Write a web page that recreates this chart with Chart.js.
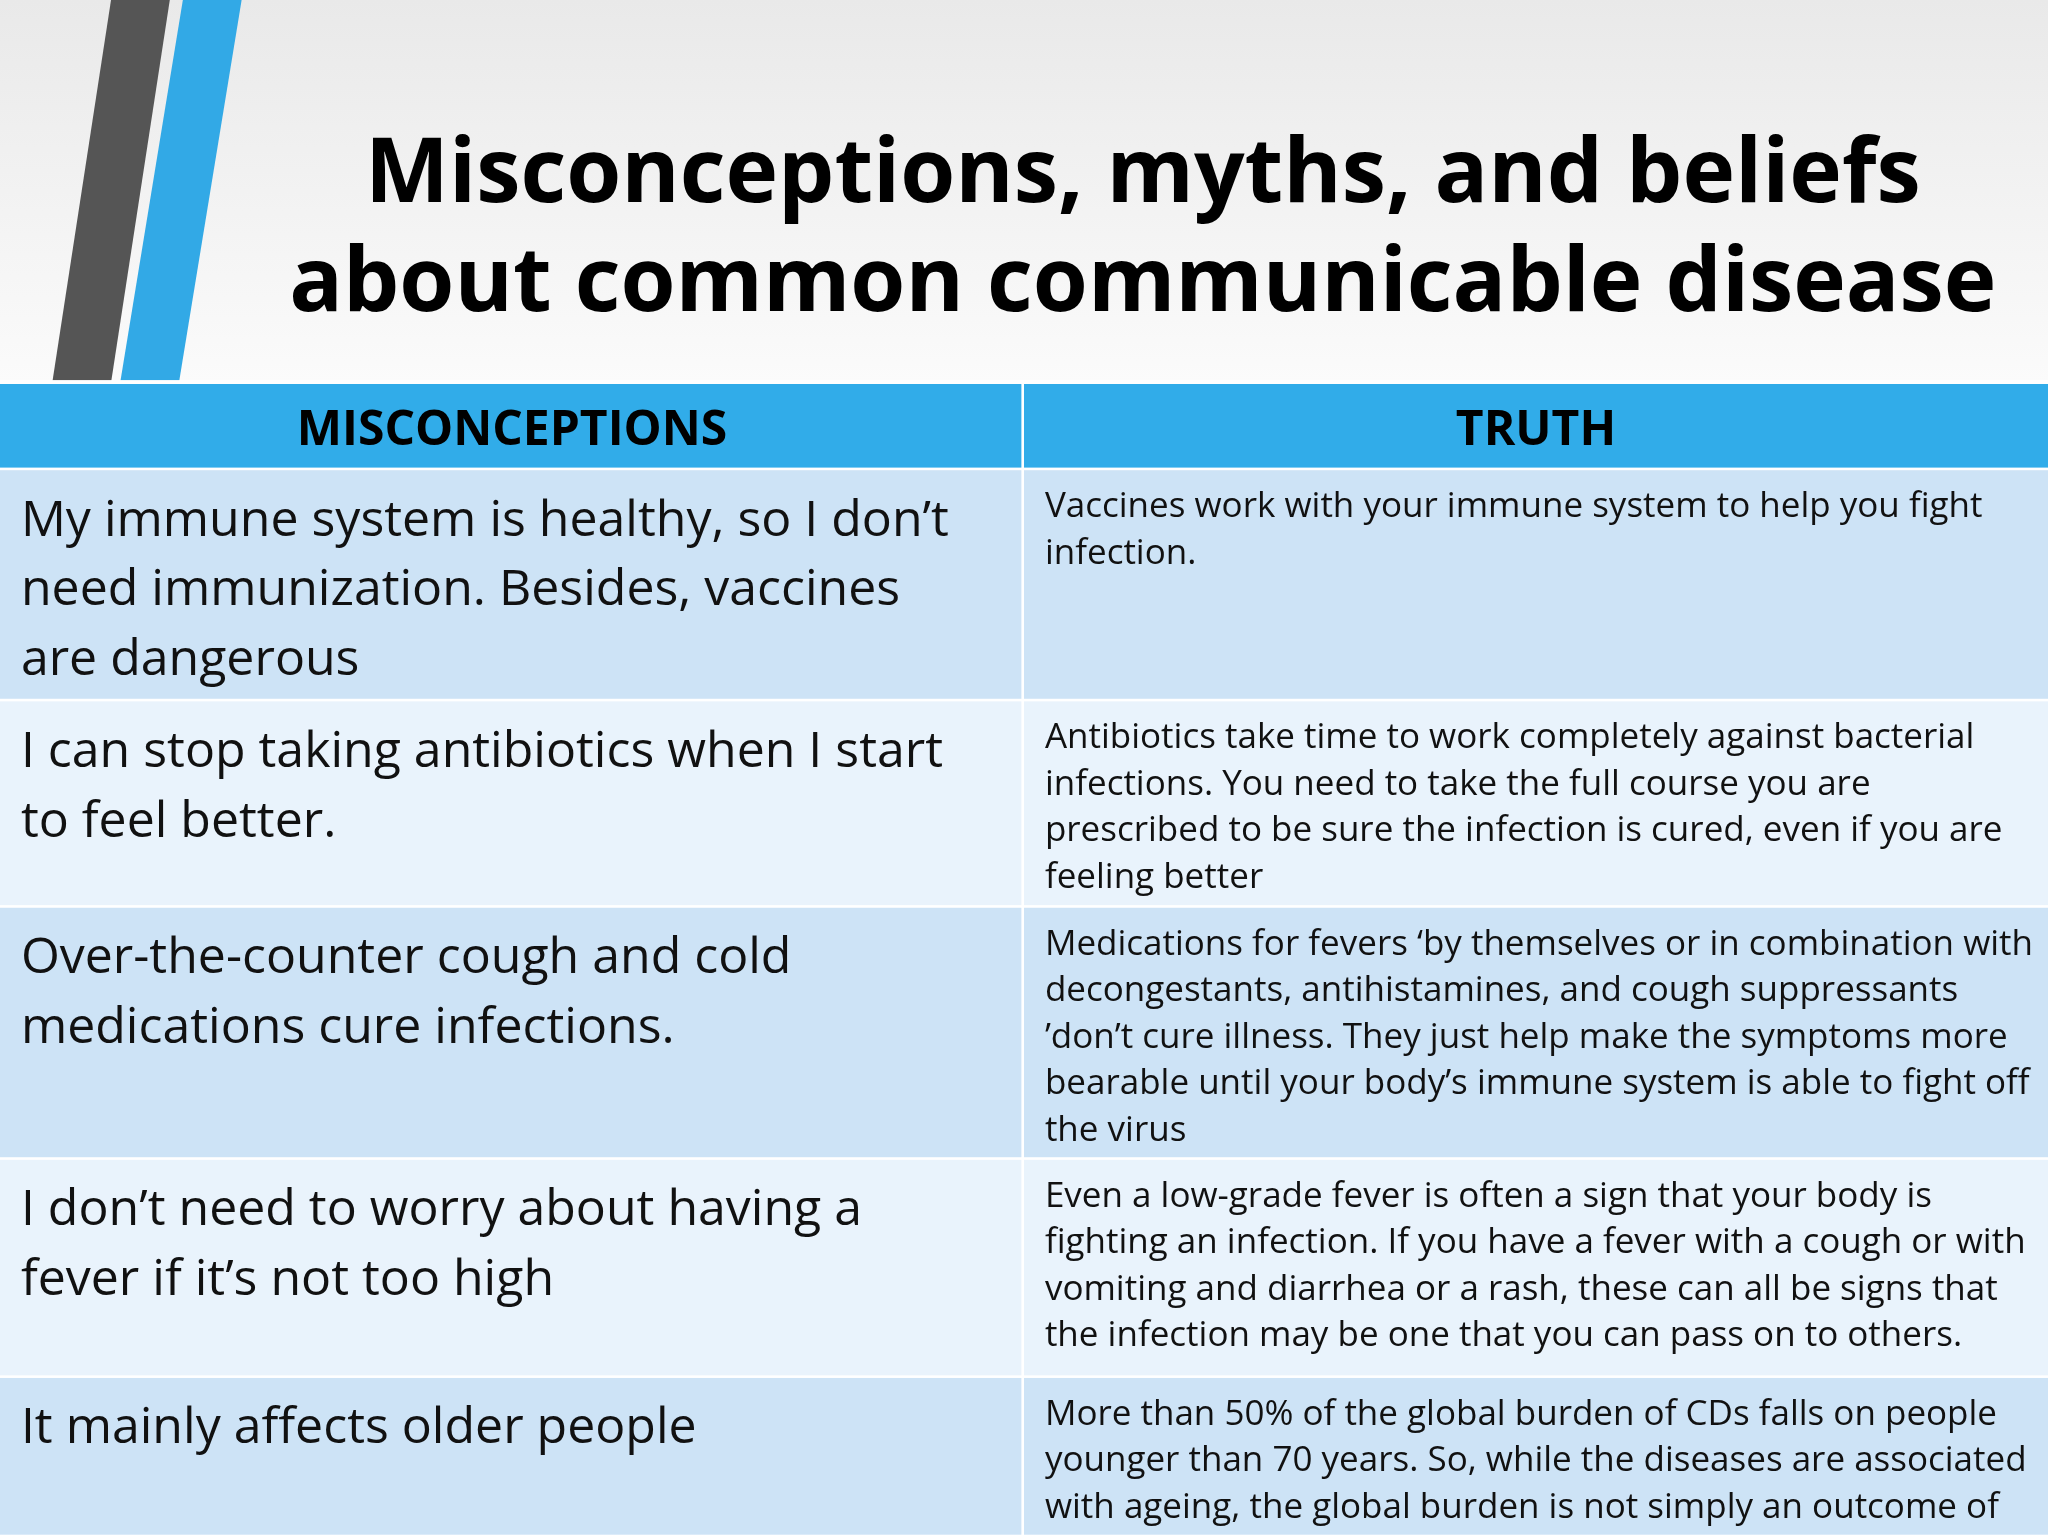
<!DOCTYPE html>
<html><head><meta charset="utf-8">
<script src="https://cdn.jsdelivr.net/npm/chart.js@4"></script>
<style>html,body{margin:0;padding:0;background:#fff}</style>
</head><body>
<canvas id="c" width="2048" height="1536"></canvas>
<script>
const titleLines = ["Misconceptions, myths, and beliefs","about common communicable disease"];
const headers = ["MISCONCEPTIONS","TRUTH"];
const misconceptions = [
 ["My immune system is healthy, so I don\u2019t","need immunization. Besides, vaccines","are dangerous"],
 ["I can stop taking antibiotics when I start","to feel better."],
 ["Over-the-counter cough and cold","medications cure infections."],
 ["I don\u2019t need to worry about having a","fever if it\u2019s not too high"],
 ["It mainly affects older people"]
];
const truths = [
 ["Vaccines work with your immune system to help you fight","infection."],
 ["Antibiotics take time to work completely against bacterial","infections. You need to take the full course you are","prescribed to be sure the infection is cured, even if you are","feeling better"],
 ["Medications for fevers \u2018by themselves or in combination with","decongestants, antihistamines, and cough suppressants","\u2019don\u2019t cure illness. They just help make the symptoms more","bearable until your body\u2019s immune system is able to fight off","the virus"],
 ["Even a low-grade fever is often a sign that your body is","fighting an infection. If you have a fever with a cough or with","vomiting and diarrhea or a rash, these can all be signs that","the infection may be one that you can pass on to others."],
 ["More than 50% of the global burden of CDs falls on people","younger than 70 years. So, while the diseases are associated","with ageing, the global burden is not simply an outcome of"]
];
const rowBounds = [293,359,536,694,887,1054,1176]; // header + 5 rows
const colBounds = [0,783,1568];

const tablePlugin = {
  id:'table',
  beforeDraw(chart){
    const {ctx, scales:{x,y}} = chart;
    const S = chart.width/1568;
    const X = v=>x.getPixelForValue(v), Y = v=>y.getPixelForValue(v);
    // background
    const g = ctx.createLinearGradient(0,0,0,Y(293));
    g.addColorStop(0,'#e9e9e9'); g.addColorStop(1,'#fbfbfb');
    ctx.fillStyle = g; ctx.fillRect(0,0,chart.width,chart.height);
    // stripes
    const poly=(pts,c)=>{ctx.beginPath();pts.forEach((p,i)=>i?ctx.lineTo(X(p[0]),Y(p[1])):ctx.moveTo(X(p[0]),Y(p[1])));ctx.closePath();ctx.fillStyle=c;ctx.fill();};
    poly([[85,0],[130,0],[85,293],[40,293]],'#555555');
    poly([[140,0],[185,0],[137,293],[92,293]],'#32a9e6');
    // title
    ctx.fillStyle='#000'; ctx.textAlign='center'; ctx.textBaseline='alphabetic';
    ctx.font = `bold ${Math.round(68*S)}px "Open Sans"`;
    ctx.fillText(titleLines[0], X(875), Y(155));
    ctx.fillText(titleLines[1], X(875), Y(238));
    // table
    ctx.fillStyle='#ffffff'; ctx.fillRect(X(0),Y(291),X(1568)-X(0),Y(1176)-Y(291));
    const gap=1;
    for(let r=0;r<rowBounds.length-1;r++){
      for(let c=0;c<2;c++){
        const col = r===0?'#31ace9':(r%2===1?'#cde3f6':'#e9f3fc');
        ctx.fillStyle=col;
        const x0=X(colBounds[c]+(c?gap:0)), x1=X(colBounds[c+1]-(c?0:gap));
        const y0=Y(rowBounds[r]+gap), y1=Y(rowBounds[r+1]-gap);
        ctx.fillRect(x0,y0,x1-x0,y1-y0);
      }
    }
    ctx.fillStyle='#000';
    ctx.font = `bold ${Math.round(37*S)}px "Open Sans"`;
    ctx.fillText(headers[0], X(392), Y(341));
    ctx.fillText(headers[1], X(1176), Y(341));
    ctx.textAlign='left';
    ctx.fillStyle='#111';
    for(let r=0;r<misconceptions.length;r++){
      const top=rowBounds[r+1];
      ctx.font = `${Math.round(38*S)}px "Open Sans"`;
      misconceptions[r].forEach((l,i)=>ctx.fillText(l,X(16),Y(top+51+i*53.5)));
      ctx.font = `${Math.round(26.5*S)}px "Open Sans"`;
      truths[r].forEach((l,i)=>ctx.fillText(l,X(800),Y(top+37+i*35.6)));
    }
  }
};

new Chart(document.getElementById('c'),{
  type:'scatter',
  data:{datasets:[{data:[],pointRadius:0}]},
  options:{
    responsive:false, animation:false, devicePixelRatio:1,
    layout:{padding:0},
    plugins:{legend:{display:false},tooltip:{enabled:false}},
    scales:{
      x:{type:'linear',min:0,max:1568,display:false},
      y:{type:'linear',min:0,max:1176,reverse:true,display:false}
    }
  },
  plugins:[tablePlugin]
});
</script>
</body></html>
